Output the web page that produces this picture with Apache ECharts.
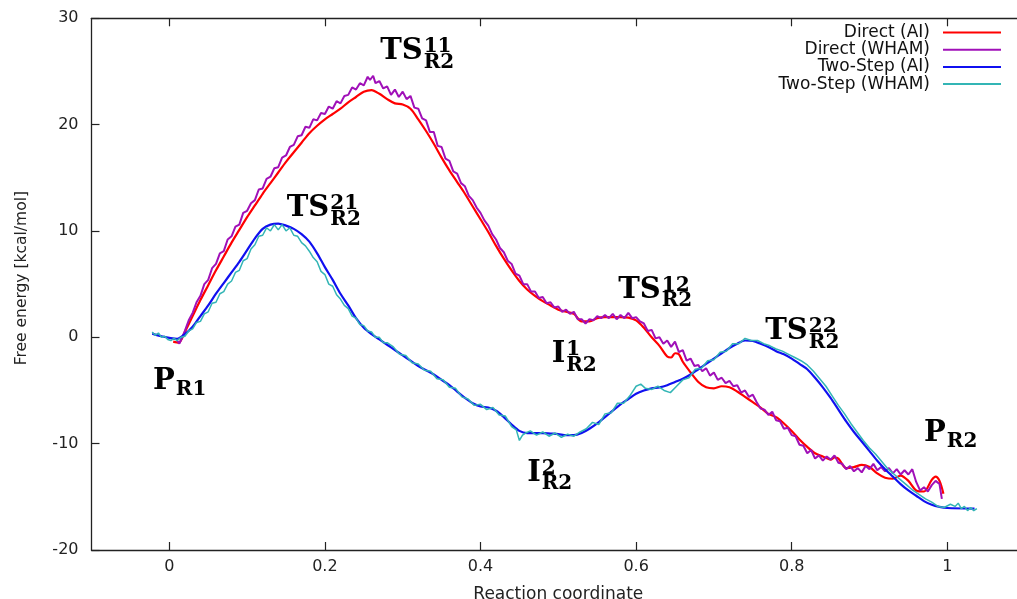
<!DOCTYPE html>
<html>
<head>
<meta charset="utf-8">
<script src="https://cdn.jsdelivr.net/npm/echarts@6/dist/echarts.min.js"></script>
<style>
html,body{margin:0;padding:0;background:#fff;}
#chart{width:1017px;height:599px;}
</style>
</head>
<body>
<div id="chart"></div>
<script>
// ---- data ----
const seriesNames = ['Direct (AI)', 'Direct (WHAM)', 'Two-Step (AI)', 'Two-Step (WHAM)'];
const xTicks = [0, 0.2, 0.4, 0.6, 0.8, 1];
const yTicks = [-20, -10, 0, 10, 20, 30];

const directAI = [[0.005,-0.4],[0.012,-0.5],[0.02,0.5],[0.03,2.0],[0.04,3.5],[0.05,4.9],[0.06,6.3],[0.07,7.6],[0.08,8.9],[0.09,10.1],[0.10,11.3],[0.11,12.4],[0.12,13.5],[0.13,14.5],[0.14,15.5],[0.15,16.5],[0.16,17.4],[0.17,18.3],[0.18,19.2],[0.19,19.9],[0.20,20.5],[0.21,21.0],[0.22,21.5],[0.23,22.1],[0.24,22.6],[0.25,23.1],[0.26,23.25],[0.27,22.9],[0.28,22.4],[0.29,22.0],[0.30,21.9],[0.31,21.5],[0.32,20.5],[0.33,19.4],[0.34,18.2],[0.35,16.9],[0.36,15.7],[0.37,14.6],[0.38,13.5],[0.39,12.3],[0.40,11.1],[0.41,9.9],[0.42,8.6],[0.43,7.4],[0.44,6.3],[0.45,5.3],[0.46,4.5],[0.47,3.9],[0.48,3.4],[0.49,3.0],[0.50,2.6],[0.51,2.4],[0.52,2.2],[0.53,1.5],[0.54,1.5],[0.55,1.8],[0.56,1.9],[0.57,1.9],[0.58,1.9],[0.59,1.85],[0.60,1.6],[0.61,0.9],[0.62,0.0],[0.63,-0.8],[0.64,-1.8],[0.645,-1.9],[0.65,-1.5],[0.655,-1.6],[0.66,-2.3],[0.67,-3.3],[0.68,-4.2],[0.69,-4.7],[0.70,-4.8],[0.71,-4.6],[0.72,-4.7],[0.73,-5.1],[0.74,-5.6],[0.75,-6.1],[0.76,-6.6],[0.77,-7.2],[0.78,-7.5],[0.79,-8.1],[0.80,-8.8],[0.81,-9.6],[0.82,-10.3],[0.83,-10.9],[0.84,-11.2],[0.85,-11.5],[0.855,-11.3],[0.86,-11.4],[0.87,-12.3],[0.88,-12.2],[0.89,-12.0],[0.90,-12.2],[0.91,-12.8],[0.92,-13.2],[0.93,-13.3],[0.94,-13.0],[0.95,-13.5],[0.96,-14.4],[0.97,-14.5],[0.98,-13.4],[0.985,-13.1],[0.99,-13.5],[0.995,-14.7]];

const directWHAM = [[0.010,-0.3],[0.013,-0.6],[0.016,-0.1],[0.020,0.6],[0.025,1.6],[0.030,2.3],[0.035,3.3],[0.040,3.9],[0.045,5.0],[0.050,5.4],[0.055,6.5],[0.060,6.9],[0.065,7.9],[0.070,8.1],[0.075,9.2],[0.080,9.5],[0.085,10.4],[0.090,10.6],[0.095,11.7],[0.100,11.9],[0.105,12.6],[0.110,12.9],[0.115,13.9],[0.120,14.0],[0.125,14.9],[0.130,15.1],[0.135,15.9],[0.140,16.0],[0.145,16.9],[0.150,17.1],[0.155,17.9],[0.160,18.1],[0.165,18.9],[0.170,19.0],[0.175,19.8],[0.180,19.7],[0.185,20.5],[0.190,20.4],[0.195,21.1],[0.200,21.0],[0.205,21.7],[0.210,21.5],[0.215,22.2],[0.220,22.0],[0.225,22.7],[0.230,22.8],[0.235,23.5],[0.240,23.3],[0.245,23.9],[0.250,23.7],[0.255,24.5],[0.258,24.2],[0.262,24.6],[0.265,23.9],[0.270,24.1],[0.275,23.4],[0.280,23.6],[0.285,22.8],[0.290,23.3],[0.295,22.6],[0.300,23.1],[0.305,22.4],[0.310,22.7],[0.315,21.6],[0.320,21.5],[0.325,20.6],[0.330,20.4],[0.335,19.3],[0.340,19.3],[0.345,18.0],[0.350,17.9],[0.355,16.8],[0.360,16.6],[0.365,15.6],[0.370,15.4],[0.375,14.5],[0.380,14.2],[0.385,13.3],[0.390,12.9],[0.395,12.2],[0.400,11.7],[0.405,11.0],[0.410,10.5],[0.415,9.7],[0.420,9.2],[0.425,8.4],[0.430,8.0],[0.435,7.2],[0.440,6.9],[0.445,6.0],[0.450,5.8],[0.455,5.0],[0.460,5.0],[0.465,4.3],[0.470,4.3],[0.475,3.7],[0.480,3.8],[0.485,3.2],[0.490,3.3],[0.495,2.8],[0.500,2.9],[0.505,2.4],[0.510,2.6],[0.515,2.2],[0.520,2.4],[0.525,1.7],[0.530,1.7],[0.535,1.3],[0.540,1.7],[0.545,1.6],[0.550,2.0],[0.555,1.8],[0.560,2.1],[0.565,1.8],[0.570,2.2],[0.575,1.7],[0.580,2.1],[0.585,1.8],[0.590,2.3],[0.595,1.8],[0.600,1.9],[0.605,1.5],[0.610,1.3],[0.615,0.6],[0.620,0.7],[0.625,-0.1],[0.630,0.0],[0.635,-0.6],[0.640,-0.3],[0.645,-0.9],[0.650,-0.4],[0.655,-1.4],[0.660,-1.2],[0.665,-2.2],[0.670,-2.0],[0.675,-2.7],[0.680,-2.6],[0.685,-3.2],[0.690,-2.9],[0.695,-3.6],[0.700,-3.3],[0.705,-4.0],[0.710,-3.8],[0.715,-4.3],[0.720,-4.1],[0.725,-4.6],[0.730,-4.5],[0.735,-5.2],[0.740,-5.0],[0.745,-5.6],[0.750,-5.4],[0.755,-6.1],[0.760,-6.7],[0.765,-6.8],[0.770,-7.3],[0.775,-7.0],[0.780,-7.8],[0.785,-7.9],[0.790,-8.6],[0.795,-8.5],[0.800,-9.2],[0.805,-9.3],[0.810,-10.1],[0.815,-10.2],[0.820,-10.9],[0.825,-10.6],[0.830,-11.4],[0.835,-11.1],[0.840,-11.6],[0.845,-11.2],[0.850,-11.5],[0.855,-11.1],[0.860,-11.8],[0.865,-11.9],[0.870,-12.4],[0.875,-12.1],[0.880,-12.6],[0.885,-12.3],[0.890,-12.7],[0.895,-12.1],[0.900,-12.4],[0.905,-11.9],[0.910,-12.5],[0.915,-12.2],[0.920,-12.6],[0.925,-12.3],[0.930,-12.8],[0.935,-12.4],[0.940,-12.9],[0.945,-12.5],[0.950,-12.9],[0.955,-12.4],[0.960,-13.6],[0.965,-14.4],[0.970,-14.1],[0.975,-14.5],[0.980,-13.9],[0.985,-13.5],[0.990,-13.8],[0.993,-15.2]];

const twoStepAI = [[-0.022,0.35],[-0.01,0.1],[0.0,-0.05],[0.01,-0.15],[0.02,0.3],[0.03,1.0],[0.04,2.0],[0.05,3.0],[0.06,4.1],[0.07,5.1],[0.08,6.1],[0.09,7.1],[0.10,8.2],[0.11,9.3],[0.12,10.2],[0.13,10.6],[0.14,10.7],[0.15,10.5],[0.16,10.2],[0.17,9.7],[0.18,9.0],[0.19,7.9],[0.20,6.6],[0.21,5.4],[0.22,4.1],[0.23,3.0],[0.24,1.8],[0.25,0.9],[0.26,0.3],[0.27,-0.2],[0.28,-0.7],[0.29,-1.2],[0.30,-1.7],[0.31,-2.2],[0.32,-2.7],[0.33,-3.1],[0.34,-3.5],[0.35,-4.0],[0.36,-4.5],[0.37,-5.1],[0.38,-5.7],[0.39,-6.2],[0.40,-6.5],[0.41,-6.6],[0.42,-6.9],[0.43,-7.5],[0.44,-8.2],[0.45,-8.8],[0.46,-9.0],[0.47,-9.0],[0.48,-9.0],[0.49,-9.05],[0.50,-9.1],[0.51,-9.2],[0.52,-9.2],[0.53,-9.0],[0.54,-8.6],[0.55,-8.1],[0.56,-7.5],[0.57,-6.9],[0.58,-6.3],[0.59,-5.8],[0.60,-5.3],[0.61,-5.0],[0.62,-4.8],[0.63,-4.7],[0.64,-4.5],[0.65,-4.2],[0.66,-3.9],[0.67,-3.5],[0.68,-3.0],[0.69,-2.5],[0.70,-2.0],[0.71,-1.5],[0.72,-1.0],[0.73,-0.6],[0.74,-0.3],[0.75,-0.35],[0.76,-0.6],[0.77,-0.9],[0.78,-1.3],[0.79,-1.6],[0.80,-2.0],[0.81,-2.5],[0.82,-3.0],[0.83,-3.8],[0.84,-4.7],[0.85,-5.7],[0.86,-6.8],[0.87,-7.9],[0.88,-8.9],[0.89,-9.8],[0.90,-10.7],[0.91,-11.6],[0.92,-12.4],[0.93,-13.1],[0.94,-13.8],[0.95,-14.4],[0.96,-14.9],[0.97,-15.4],[0.98,-15.75],[0.99,-15.95],[1.00,-16.05],[1.035,-16.1]];

const twoStepWHAM = [[-0.022,0.5],[-0.018,0.2],[-0.014,0.4],[-0.010,0.0],[-0.006,0.1],[-0.002,-0.2],[0.002,-0.3],[0.006,-0.1],[0.010,-0.3],[0.015,0.0],[0.020,0.1],[0.025,0.6],[0.030,0.8],[0.035,1.4],[0.040,1.5],[0.045,2.2],[0.050,2.4],[0.055,3.2],[0.060,3.3],[0.065,4.1],[0.070,4.3],[0.075,5.0],[0.080,5.3],[0.085,6.1],[0.090,6.3],[0.095,7.2],[0.100,7.4],[0.105,8.3],[0.110,8.7],[0.115,9.5],[0.120,9.6],[0.125,10.3],[0.130,10.0],[0.135,10.6],[0.140,10.1],[0.145,10.6],[0.150,10.0],[0.155,10.3],[0.160,9.6],[0.165,9.5],[0.170,8.9],[0.175,8.6],[0.180,8.1],[0.185,7.5],[0.190,7.1],[0.195,6.2],[0.200,5.9],[0.205,5.0],[0.210,4.8],[0.215,4.0],[0.220,3.6],[0.225,3.0],[0.230,2.7],[0.235,2.0],[0.240,1.8],[0.245,1.2],[0.250,1.1],[0.255,0.6],[0.260,0.5],[0.265,0.0],[0.270,0.0],[0.275,-0.5],[0.280,-0.5],[0.288,-0.9],[0.296,-1.6],[0.304,-1.7],[0.312,-2.4],[0.320,-2.5],[0.328,-3.1],[0.336,-3.2],[0.344,-3.9],[0.352,-4.0],[0.360,-4.7],[0.368,-4.8],[0.376,-5.6],[0.384,-5.8],[0.392,-6.4],[0.400,-6.3],[0.408,-6.8],[0.416,-6.6],[0.424,-7.3],[0.432,-7.4],[0.440,-8.4],[0.446,-8.7],[0.450,-9.7],[0.454,-9.2],[0.458,-9.0],[0.464,-8.8],[0.472,-9.2],[0.480,-8.9],[0.488,-9.3],[0.496,-9.0],[0.504,-9.4],[0.512,-9.1],[0.520,-9.3],[0.528,-8.9],[0.536,-8.6],[0.544,-8.0],[0.552,-8.2],[0.560,-7.2],[0.568,-7.1],[0.576,-6.2],[0.584,-6.2],[0.592,-5.5],[0.600,-4.6],[0.606,-4.4],[0.612,-4.8],[0.620,-4.9],[0.628,-4.6],[0.636,-5.0],[0.644,-5.2],[0.652,-4.6],[0.660,-4.0],[0.668,-3.8],[0.676,-3.0],[0.684,-2.9],[0.692,-2.2],[0.700,-2.1],[0.708,-1.4],[0.716,-1.3],[0.724,-0.6],[0.732,-0.6],[0.740,-0.1],[0.748,-0.3],[0.756,-0.3],[0.764,-0.6],[0.772,-0.8],[0.780,-1.1],[0.788,-1.3],[0.796,-1.6],[0.804,-1.9],[0.812,-2.2],[0.820,-2.6],[0.828,-3.2],[0.836,-3.9],[0.844,-4.6],[0.852,-5.5],[0.860,-6.4],[0.868,-7.2],[0.876,-8.1],[0.884,-8.9],[0.892,-9.7],[0.900,-10.4],[0.908,-11.0],[0.916,-11.7],[0.924,-12.4],[0.932,-12.9],[0.940,-13.4],[0.948,-13.9],[0.956,-14.4],[0.964,-14.8],[0.972,-15.2],[0.980,-15.5],[0.988,-15.9],[0.996,-16.0],[1.004,-15.7],[1.010,-15.9],[1.014,-15.6],[1.018,-16.1],[1.022,-15.9],[1.026,-16.3],[1.030,-16.0],[1.034,-16.3],[1.038,-16.1]];

// labels: main text, superscript, subscript, anchor = data coords of the main-text baseline start
const annotations = [
  {main:'TS', sup:'11', sub:'R2', x:0.271, y:25.95},
  {main:'TS', sup:'21', sub:'R2', x:0.151, y:11.2},
  {main:'TS', sup:'12', sub:'R2', x:0.577, y:3.5},
  {main:'TS', sup:'22', sub:'R2', x:0.766, y:-0.4},
  {main:'I',  sup:'1',  sub:'R2', x:0.4915, y:-2.55},
  {main:'I',  sup:'2',  sub:'R2', x:0.460, y:-13.7},
  {main:'P',  sup:'',   sub:'R1', x:-0.021, y:-5.05},
  {main:'P',  sup:'',   sub:'R2', x:0.970, y:-10.0}
];

// ---- chart ----
const colors = ['#ff0000', '#a010b8', '#1010f0', '#33b5b5'];
const widths = [2.2, 2, 2.2, 1.5];
const dataSets = [directAI, directWHAM, twoStepAI, twoStepWHAM];
const chart = echarts.init(document.getElementById('chart'), null, {renderer:'canvas'});

const axisFont = 'DejaVu Sans';
const frame = {show:true, onZero:false, lineStyle:{color:'#222', width:1.3}};
const tickStyle = {show:true, inside:true, length:8, lineStyle:{color:'#222', width:1.2}};

const legends = seriesNames.map((n, i) => ({
  data:[n], right:16, top:24 + i*17.2, orient:'horizontal', align:'right',
  icon:'rect', itemWidth:58, itemHeight:2, itemGap:0, padding:0,
  textStyle:{fontFamily:axisFont, fontSize:17, color:'#111', lineHeight:17, padding:[0,8,0,0]}
}));

const option = {
  animation:false,
  backgroundColor:'#ffffff',
  color: colors,
  legend: legends,
  grid:{left:91.5, top:18.3, width:933.6, height:531.7, containLabel:false, outerBoundsMode:'none'},
  xAxis:[
    {type:'value', position:'bottom', min:-0.1, max:1.1,
     axisLine:frame, axisTick:Object.assign({}, tickStyle, {customValues:xTicks}),
     axisLabel:{customValues:xTicks, fontFamily:axisFont, fontSize:16, color:'#222', margin:9},
     splitLine:{show:false},
     name:'Reaction coordinate', nameLocation:'middle', nameGap:36,
     nameTextStyle:{fontFamily:axisFont, fontSize:17, color:'#222'}},
    {type:'value', position:'top', min:-0.1, max:1.1,
     axisLine:frame, axisTick:Object.assign({}, tickStyle, {customValues:xTicks}),
     axisLabel:{show:false}, splitLine:{show:false}}
  ],
  yAxis:[
    {type:'value', position:'left', min:-20, max:30, interval:10,
     axisLine:frame, axisTick:tickStyle,
     axisLabel:{fontFamily:axisFont, fontSize:16, color:'#222', margin:13},
     splitLine:{show:false},
     name:'Free energy [kcal/mol]', nameLocation:'middle', nameGap:62,
     nameTextStyle:{fontFamily:axisFont, fontSize:15.5, color:'#222', padding:[0,0,0,12]}},
    {type:'value', position:'right', min:-20, max:30, interval:10,
     axisLine:frame, axisTick:tickStyle, axisLabel:{show:false}, splitLine:{show:false}}
  ],
  series: seriesNames.map((n, i) => ({
    name:n, type:'line', data:dataSets[i], xAxisIndex:0, yAxisIndex:0,
    showSymbol:false, symbol:'none', smooth: (i === 0 || i === 2) ? 0.3 : false,
    lineStyle:{color:colors[i], width:widths[i]}, itemStyle:{color:colors[i]},
    z: 2 + i, silent:true
  }))
};
chart.setOption(option);

// ---- annotation labels, positioned through the axes ----
const mainSize = 29, smallSize = 20;
const mainFont = 'bold ' + mainSize + 'px "DejaVu Serif"';
const smallFont = 'bold ' + smallSize + 'px "DejaVu Serif"';
const mid = 0.346; // em-middle above baseline
const ctx = document.createElement('canvas').getContext('2d');
function textW(t, f){ ctx.font = f; return ctx.measureText(t).width; }
const els = [];
annotations.forEach(a => {
  const p = chart.convertToPixel({xAxisIndex:0, yAxisIndex:0}, [a.x, a.y]);
  const w = textW(a.main, mainFont);
  els.push({type:'text', x:p[0], y:p[1] - mid*mainSize, silent:true,
    style:{text:a.main, font:mainFont, fill:'#000', align:'left', verticalAlign:'middle'}});
  const sx = p[0] + w + 1;
  if (a.sup) els.push({type:'text', x:sx, y:p[1] - 7.5 - mid*smallSize, silent:true,
    style:{text:a.sup, font:smallFont, fill:'#000', align:'left', verticalAlign:'middle'}});
  if (a.sub) els.push({type:'text', x:sx, y:p[1] + (a.sup ? 8 : 5.5) - mid*smallSize, silent:true,
    style:{text:a.sub, font:smallFont, fill:'#000', align:'left', verticalAlign:'middle'}});
});
chart.setOption({graphic: els});
</script>
</body>
</html>
